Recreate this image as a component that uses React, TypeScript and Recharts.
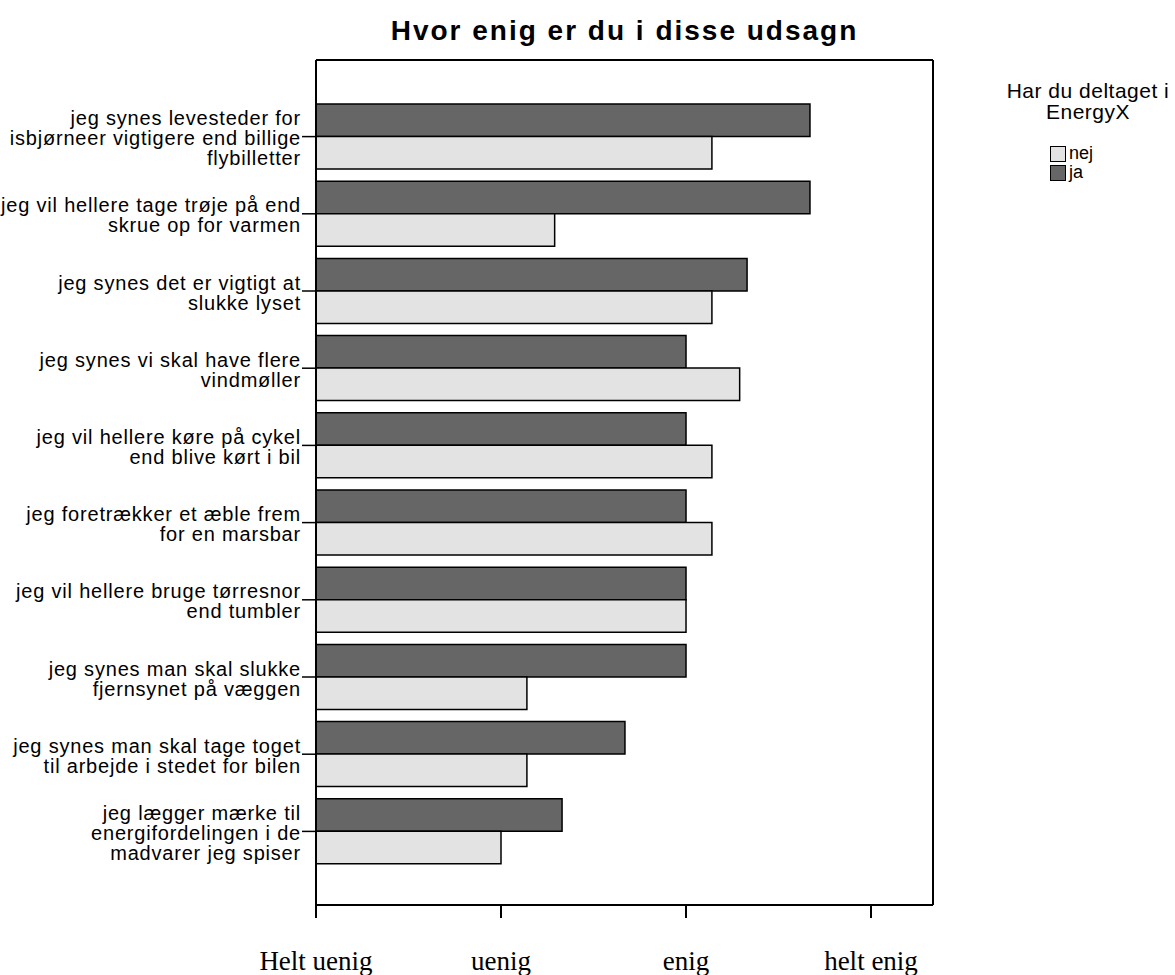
import { BarChart, Bar, XAxis, YAxis } from "recharts";

// udsagn (linjer som i originalen)
const udsagn: string[][] = [
    ["jeg synes levesteder for", "isbjørneer vigtigere end billige", "flybilletter"],
    ["jeg vil hellere tage trøje på end", "skrue op for varmen"],
    ["jeg synes det er vigtigt at", "slukke lyset"],
    ["jeg synes vi skal have flere", "vindmøller"],
    ["jeg vil hellere køre på cykel", "end blive kørt i bil"],
    ["jeg foretrækker et æble frem", "for en marsbar"],
    ["jeg vil hellere bruge tørresnor", "end tumbler"],
    ["jeg synes man skal slukke", "fjernsynet på væggen"],
    ["jeg synes man skal tage toget", "til arbejde i stedet for bilen"],
    ["jeg lægger mærke til", "energifordelingen i de", "madvarer jeg spiser"],
];

// gennemsnit pr. gruppe (1 = helt uenig ... 4 = helt enig)
const ja = [3.67, 3.67, 3.33, 3.0, 3.0, 3.0, 3.0, 3.0, 2.67, 2.33];
const nej = [3.14, 2.29, 3.14, 3.29, 3.14, 3.14, 3.0, 2.14, 2.14, 2.0];

const skalaTicks = [1, 2, 3, 4];
const skalaNavne = ["Helt uenig", "uenig", "enig", "helt enig"];

const grupper = [
    { navn: "nej", farve: "#e3e3e3" },
    { navn: "ja", farve: "#666666" },
];

const data = udsagn.map((linjer, i) => ({
    name: linjer.join(" "),
    ja: ja[i],
    nej: nej[i],
}));

const sans = "Arial, 'Liberation Sans', sans-serif";
const serif = "'Times New Roman', 'Liberation Serif', serif";

function UdsagnTick(props: any) {
    const { x, y, payload } = props;
    const linjer = udsagn[payload.index] || [];
    const n = linjer.length;
    return (
        <g>
            {linjer.map((l, i) => (
                <text
                    key={i}
                    x={x}
                    y={y + 8.5 + (i - (n - 1) / 2) * 20}
                    textAnchor="end"
                    fontFamily={sans}
                    fontSize={20}
                    letterSpacing={0.8}
                    fill="#000"
                >
                    {l}
                </text>
            ))}
        </g>
    );
}

function SkalaTick(props: any) {
    const { x, y, payload } = props;
    const idx = skalaTicks.indexOf(payload.value);
    return (
        <text x={x} y={y + 52} textAnchor="middle" fontFamily={serif} fontSize={27} fill="#000">
            {skalaNavne[idx]}
        </text>
    );
}

function Forklaring() {
    return (
        <div style={{ position: "absolute", left: 998, top: 80, width: 180, fontFamily: sans, color: "#000" }}>
            <div style={{ textAlign: "center", fontSize: 21, lineHeight: "21px", letterSpacing: 0.5 }}>
                Har du deltaget i<br />EnergyX
            </div>
            <div style={{ marginTop: 22, marginLeft: 52 }}>
                {grupper.map((g) => (
                    <div key={g.navn} style={{ display: "flex", alignItems: "center", height: 19, fontSize: 18 }}>
                        <span style={{
                            display: "inline-block", width: 16, height: 16, boxSizing: "border-box",
                            background: g.farve, border: "1.5px solid #000", marginRight: 3
                        }} />
                        {g.navn}
                    </div>
                ))}
            </div>
        </div>
    );
}

export default function App() {
    return (
        <div style={{ position: "absolute", left: 0, top: 0, width: 1175, height: 975, background: "#fff" }}>
            <div style={{
                position: "absolute", left: 316, width: 617, top: 15, textAlign: "center",
                fontFamily: sans, fontWeight: "bold", fontSize: 28, letterSpacing: 2, lineHeight: "32px"
            }}>
                Hvor enig er du i disse udsagn
            </div>
            <BarChart
                width={1175}
                height={975}
                data={data}
                layout="vertical"
                margin={{ top: 59, right: 241, bottom: 0, left: 0 }}
                barGap={0}
                barSize={32.5}
            >
                <XAxis
                    type="number"
                    domain={[1, 4.335]}
                    allowDataOverflow
                    ticks={skalaTicks}
                    tick={<SkalaTick />}
                    tickSize={13}
                    tickMargin={0}
                    height={70}
                    axisLine={{ stroke: "#000", strokeWidth: 2 }}
                    tickLine={{ stroke: "#000", strokeWidth: 2 }}
                    interval={0}
                />
                <XAxis
                    xAxisId="top"
                    orientation="top"
                    type="number"
                    domain={[1, 4.335]}
                    allowDataOverflow
                    height={1}
                    tick={false}
                    tickLine={false}
                    axisLine={{ stroke: "#000", strokeWidth: 2 }}
                />
                <YAxis
                    type="category"
                    dataKey="name"
                    width={316}
                    padding={{ top: 38, bottom: 35 }}
                    tick={<UdsagnTick />}
                    tickSize={14}
                    tickMargin={1}
                    interval={0}
                    axisLine={{ stroke: "#000", strokeWidth: 2 }}
                    tickLine={{ stroke: "#000", strokeWidth: 1.5 }}
                />
                <YAxis
                    yAxisId="right"
                    orientation="right"
                    type="category"
                    dataKey="name"
                    width={1}
                    tick={false}
                    tickLine={false}
                    axisLine={{ stroke: "#000", strokeWidth: 2 }}
                />
                <Bar dataKey="ja" fill="#666666" stroke="#000" strokeWidth={1.5} isAnimationActive={false} />
                <Bar dataKey="nej" fill="#e3e3e3" stroke="#000" strokeWidth={1.5} isAnimationActive={false} />
            </BarChart>
            <Forklaring />
        </div>
    );
}
